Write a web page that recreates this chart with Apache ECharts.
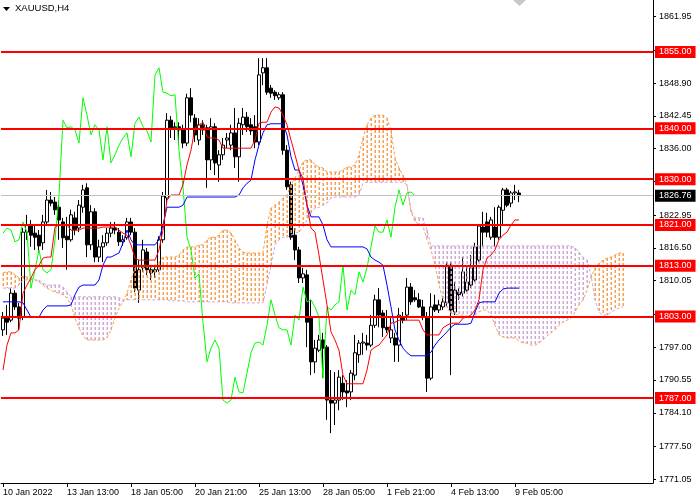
<!DOCTYPE html>
<html><head><meta charset="utf-8">
<script src="https://cdn.jsdelivr.net/npm/echarts@6/dist/echarts.min.js"></script>
<style>html,body{margin:0;padding:0;background:#fff}#c{width:700px;height:500px}</style>
</head><body><div id="c"></div>
<script>
const xTickLabels = ['10 Jan 2022','13 Jan 13:00','18 Jan 05:00','20 Jan 21:00','25 Jan 13:00','28 Jan 05:00','1 Feb 21:00','4 Feb 13:00','9 Feb 05:00'];
const barsPerTick = 16;
const slotCount = 163;

const open = [1800.4,1802.7,1802.3,1807.6,1804.9,1802.9,1819.6,1821.0,1819.4,1819.0,
 1817.5,1821.6,1825.9,1825.5,1824.5,1821.6,1818.8,1818.1,1822.4,1820.4,
 1824.5,1828.3,1817.1,1823.6,1814.7,1816.7,1817.5,1819.4,1820.4,1819.6,
 1817.7,1818.5,1821.6,1819.6,1808.2,1812.6,1815.7,1812.2,1811.8,1812.2,
 1818.1,1826.3,1841.6,1840.1,1840.3,1839.7,1837.1,1846.0,1842.0,1837.7,
 1840.7,1840.1,1833.8,1840.3,1832.8,1834.8,1837.7,1836.7,1839.1,1834.4,
 1840.7,1842.2,1840.7,1840.3,1837.3,1850.9,1851.9,1847.9,1847.1,1846.0,
 1846.6,1835.7,1828.9,1819.0,1816.1,1810.6,1811.2,1802.7,1794.1,1796.4,
 1798.4,1797.0,1786.6,1786.0,1786.6,1789.9,1788.4,1788.2,1791.5,1795.5,
 1797.8,1797.8,1797.4,1801.3,1806.3,1803.7,1800.9,1798.8,1798.8,1797.4,
 1802.9,1803.3,1808.8,1806.7,1806.3,1804.9,1802.9,1790.9,1805.3,1804.3,
 1804.9,1805.7,1813.1,1803.9,1807.8,1807.6,1808.2,1809.2,1810.2,1814.1,
 1820.6,1821.6,1818.6,1820.6,1818.6,1823.9,1827.9,1825.3,1827.3,1827.3];
const close = [1802.7,1801.9,1807.6,1804.9,1802.7,1819.6,1821.0,1819.0,1818.6,1816.9,
 1821.6,1825.9,1825.3,1824.0,1822.0,1818.5,1818.1,1823.0,1820.0,1824.9,
 1827.9,1817.1,1823.6,1814.7,1816.7,1817.5,1819.4,1820.4,1820.0,1817.7,
 1818.1,1821.6,1819.6,1808.6,1812.2,1816.1,1812.2,1811.6,1812.2,1818.1,
 1826.7,1841.6,1840.1,1840.3,1839.7,1837.1,1846.0,1842.6,1838.7,1840.7,
 1839.7,1833.8,1840.3,1833.2,1834.8,1836.7,1838.1,1839.1,1834.4,1841.0,
 1842.2,1840.3,1839.5,1837.3,1850.5,1851.9,1847.1,1846.9,1846.4,1846.6,
 1835.7,1828.5,1818.6,1816.1,1810.6,1811.4,1801.9,1794.1,1796.8,1798.4,
 1796.8,1786.6,1786.0,1786.6,1791.1,1788.2,1788.0,1791.9,1795.9,1797.8,
 1798.0,1797.4,1801.3,1806.3,1803.3,1800.8,1800.4,1800.4,1797.4,1803.3,
 1802.3,1808.8,1805.9,1806.3,1804.9,1802.9,1790.9,1804.9,1804.3,1805.3,
 1805.9,1813.1,1804.3,1808.2,1807.3,1811.8,1809.8,1812.6,1816.7,1820.8,
 1819.6,1819.6,1822.0,1818.6,1824.5,1827.9,1824.9,1827.3,1827.5,1826.76];
const high = [1803.9,1805.3,1808.6,1808.2,1805.7,1820.4,1823.0,1822.0,1821.0,1820.0,
 1823.0,1827.9,1827.5,1826.5,1825.9,1822.4,1822.6,1824.0,1823.6,1825.9,
 1828.9,1829.2,1824.9,1824.3,1818.1,1819.0,1820.4,1821.6,1821.6,1820.4,
 1819.0,1822.4,1822.4,1820.4,1814.1,1818.1,1816.5,1813.1,1813.1,1818.8,
 1827.5,1843.0,1842.4,1841.2,1841.2,1840.7,1846.8,1847.9,1842.8,1842.0,
 1841.6,1840.7,1842.0,1841.0,1835.7,1838.1,1839.1,1840.7,1844.0,1842.0,
 1844.0,1843.2,1842.0,1842.6,1853.8,1853.8,1853.8,1848.5,1847.5,1847.1,
 1847.1,1836.7,1829.5,1820.4,1816.7,1812.6,1812.2,1806.3,1798.4,1799.4,
 1799.8,1797.4,1792.5,1792.1,1792.5,1791.5,1790.5,1792.5,1799.4,1798.4,
 1799.8,1799.4,1803.3,1807.3,1808.6,1804.3,1804.3,1802.7,1799.8,1804.7,
 1803.9,1810.6,1809.6,1808.2,1807.6,1806.3,1803.9,1807.6,1807.3,1806.3,
 1806.9,1813.7,1813.7,1809.8,1808.6,1814.7,1813.1,1815.1,1817.5,1821.0,
 1823.6,1823.4,1822.6,1824.5,1824.9,1828.3,1828.3,1827.7,1828.9,1827.9];
const low = [1799.2,1799.4,1801.9,1804.3,1800.4,1802.3,1818.1,1816.7,1816.1,1815.5,
 1816.1,1821.2,1824.7,1823.0,1818.1,1816.5,1812.2,1817.7,1819.0,1819.6,
 1823.4,1814.7,1816.1,1813.7,1813.7,1813.7,1816.9,1818.6,1819.2,1816.9,
 1816.9,1818.1,1819.0,1807.8,1805.7,1811.8,1811.2,1810.2,1810.6,1811.8,
 1817.5,1824.9,1838.1,1837.7,1836.7,1836.1,1836.5,1841.2,1837.3,1836.7,
 1838.7,1828.3,1831.8,1830.8,1829.5,1833.8,1836.1,1835.7,1832.2,1829.5,
 1838.7,1839.3,1838.7,1836.1,1836.7,1848.5,1846.6,1846.0,1845.6,1845.6,
 1834.8,1827.9,1818.1,1814.1,1809.6,1809.6,1797.0,1791.5,1791.9,1796.0,
 1790.9,1782.7,1780.1,1781.7,1784.6,1786.6,1785.2,1786.6,1790.5,1793.9,
 1795.5,1796.4,1797.0,1800.8,1800.9,1799.0,1799.8,1797.8,1794.1,1794.1,
 1801.7,1802.3,1805.3,1805.9,1804.7,1802.3,1788.2,1790.5,1803.9,1803.7,
 1804.3,1805.1,1791.5,1803.3,1806.3,1806.9,1807.8,1808.6,1809.8,1813.7,
 1816.7,1818.6,1818.1,1816.7,1818.1,1821.2,1824.5,1824.5,1825.9,1825.5];

const tenkan = [1792.5,1797.4,1799.8,1799.8,1800.4,1807.6,1809.2,1810.6,1812.2,1813.1,
 1814.5,1814.7,1814.7,1820.6,1821.0,1821.0,1821.0,1820.0,1820.0,1820.0,
 1820.4,1820.4,1820.4,1820.4,1820.4,1820.6,1820.6,1820.6,1820.6,1820.0,
 1819.4,1819.0,1817.1,1814.5,1814.1,1814.1,1814.1,1814.1,1814.1,1816.1,
 1820.0,1825.9,1826.9,1826.9,1826.9,1828.9,1832.8,1835.7,1840.1,1840.7,
 1841.2,1838.3,1838.1,1838.1,1837.7,1836.1,1836.1,1836.1,1836.1,1836.1,
 1836.1,1836.1,1836.1,1837.7,1841.0,1841.2,1841.2,1843.2,1844.2,1844.0,
 1842.6,1840.7,1837.7,1834.8,1831.8,1830.2,1824.9,1820.4,1819.6,1815.1,
 1810.2,1805.3,1800.0,1798.4,1796.4,1791.5,1789.8,1789.8,1789.8,1789.8,
 1789.8,1792.5,1796.4,1797.0,1797.4,1798.4,1799.4,1801.7,1801.9,1802.3,
 1802.3,1802.3,1802.3,1802.3,1802.3,1800.4,1799.4,1799.4,1799.4,1799.4,
 1800.8,1801.3,1801.7,1801.7,1801.7,1802.7,1802.9,1803.3,1804.3,1806.3,
 1812.2,1814.5,1815.1,1816.1,1818.1,1819.0,1819.6,1821.0,1822.0,1822.0];
const kijun = [1805.9,1805.9,1805.9,1805.9,1805.9,1805.7,1804.3,1802.9,1802.9,1802.9,
 1804.3,1805.1,1805.1,1805.1,1805.1,1805.1,1805.1,1805.3,1807.3,1808.8,
 1809.2,1809.2,1809.2,1809.2,1810.2,1813.1,1814.7,1814.7,1815.1,1815.5,
 1817.5,1820.0,1818.1,1817.1,1817.1,1817.1,1817.1,1817.1,1817.1,1818.1,
 1821.0,1824.5,1824.5,1824.5,1824.5,1824.9,1826.5,1826.5,1826.5,1826.5,
 1826.5,1826.5,1826.5,1826.5,1826.5,1826.5,1826.5,1826.5,1826.5,1826.9,
 1828.3,1829.2,1829.8,1833.8,1836.7,1839.1,1840.7,1840.9,1840.9,1840.9,
 1840.9,1838.7,1834.4,1831.8,1831.8,1828.9,1824.9,1822.6,1822.6,1822.6,
 1821.0,1818.1,1816.7,1816.7,1816.7,1816.7,1816.7,1816.7,1816.7,1816.7,
 1816.7,1816.3,1814.7,1814.1,1813.7,1813.1,1809.2,1804.9,1800.4,1798.4,
 1796.8,1795.9,1795.3,1795.3,1795.3,1795.3,1795.3,1796.0,1797.4,1798.4,
 1799.2,1800.0,1800.9,1801.5,1801.5,1801.5,1801.5,1801.7,1803.9,1805.7,
 1805.9,1805.9,1805.9,1805.9,1807.6,1808.4,1808.6,1808.6,1808.6,1808.6];
const spanA = [1811.6,1811.8,1811.8,1811.2,1810.6,1811.0,1810.8,1810.6,1810.2,1809.8,
 1809.2,1808.6,1808.2,1807.8,1807.6,1807.3,1806.7,1805.3,1802.7,1800.8,
 1799.2,1798.4,1798.4,1798.4,1798.4,1798.4,1798.8,1800.4,1802.7,1804.7,
 1805.9,1807.6,1810.2,1812.6,1813.1,1813.1,1813.1,1813.1,1813.1,1813.7,
 1814.7,1814.7,1814.7,1814.7,1815.1,1816.1,1816.7,1816.7,1816.7,1817.1,
 1817.1,1818.1,1818.6,1818.6,1819.0,1820.0,1820.0,1819.4,1818.1,1816.5,
 1815.7,1815.5,1815.5,1815.5,1815.5,1815.5,1821.0,1824.3,1824.9,1825.5,
 1826.3,1826.9,1828.9,1830.2,1831.8,1833.4,1833.8,1833.8,1832.8,1832.4,
 1832.2,1831.4,1831.4,1831.4,1831.4,1831.8,1832.4,1832.4,1832.8,1834.8,
 1838.1,1840.7,1842.0,1842.6,1842.6,1842.6,1842.0,1839.7,1834.2,1832.2,
 1830.8,1828.9,1823.6,1821.6,1821.2,1820.8,1818.1,1816.1,1813.1,1809.2,
 1806.3,1804.7,1803.7,1803.5,1803.3,1803.3,1803.1,1802.9,1803.3,1803.9,
 1804.3,1804.3,1803.3,1801.3,1799.4,1799.0,1798.8,1798.8,1798.8,1798.2,
 1797.8,1797.8,1797.4,1797.4,1797.8,1798.4,1799.2,1799.8,1800.4,1801.3,
 1801.9,1802.3,1802.7,1803.9,1805.3,1806.3,1808.2,1810.6,1812.6,1813.5,
 1814.1,1814.5,1814.7,1815.1,1815.5,1815.5];
const spanB = [1808.6,1808.6,1808.6,1808.6,1809.2,1810.2,1810.2,1810.2,1810.2,1810.2,
 1809.6,1809.2,1809.2,1809.2,1809.2,1808.8,1807.8,1806.9,1806.9,1806.9,
 1806.9,1806.9,1806.9,1806.9,1806.9,1806.9,1806.9,1806.9,1806.9,1806.7,
 1806.3,1806.3,1806.3,1806.3,1806.3,1806.3,1806.3,1806.3,1806.3,1806.3,
 1806.3,1806.3,1806.1,1806.1,1806.1,1806.1,1805.9,1805.9,1805.9,1805.9,
 1805.9,1805.9,1805.9,1805.9,1805.9,1805.9,1805.9,1805.7,1805.7,1805.7,
 1805.7,1805.7,1805.7,1805.7,1805.7,1805.7,1809.2,1813.1,1817.1,1818.1,
 1818.6,1818.6,1819.0,1819.4,1819.6,1820.6,1822.0,1823.4,1824.3,1824.5,
 1824.9,1825.3,1826.3,1826.5,1826.5,1826.5,1826.5,1826.5,1826.5,1826.9,
 1829.2,1829.4,1829.4,1829.4,1829.4,1829.4,1829.4,1829.4,1829.4,1829.4,
 1829.4,1828.9,1823.9,1822.4,1822.4,1822.4,1820.0,1816.9,1816.9,1816.9,
 1816.9,1816.9,1816.9,1816.9,1816.9,1816.9,1816.9,1816.9,1816.9,1816.9,
 1816.9,1816.9,1816.9,1816.9,1816.9,1816.9,1816.9,1816.9,1816.9,1816.9,
 1816.9,1816.9,1816.9,1816.9,1816.9,1816.9,1816.9,1816.9,1816.9,1816.9,
 1816.9,1816.9,1816.9,1816.5,1815.7,1814.7,1814.1,1811.2,1806.3,1803.9,
 1803.3,1803.3,1803.9,1804.3,1804.7,1804.9];
const chikouShift = 26;

const levels = [1855, 1840, 1830, 1821, 1813, 1803, 1787];
const lastPrice = 1826.76;
const yTicks = [1861.95,1855.40,1848.90,1842.45,1836.00,1829.55,1822.95,1816.50,1810.05,1803.50,1797.00,1790.55,1784.10,1777.50,1771.05];
const yMin = 1770.30, yMax = 1865.22;

const FONT = '"Liberation Sans", Arial, sans-serif';
const ORANGE = '#F7A050', THISTLE = '#D0A8D8';
const categories = Array.from({length: slotCount}, (_, i) => String(i));
const candleData = open.map((o, i) => [o, close[i], low[i], high[i]]);
const chikou = close.slice(chikouShift);
const cloudData = spanA.map((a, i) => [i, a, spanB[i]]);
const showTick = (i) => i % barsPerTick === 0 && i / barsPerTick < xTickLabels.length;

const chart = echarts.init(document.getElementById('c'), null, {renderer: 'canvas'});
chart.setOption({
  animation: false,
  backgroundColor: '#fff',
  textStyle: {fontFamily: FONT},
  grid: {left: -1, right: 47, top: 0, bottom: 17, containLabel: false},
  xAxis: {
    type: 'category', data: categories, boundaryGap: true,
    axisLine: {show: true, onZero: false, lineStyle: {color: '#000', width: 1}},
    axisTick: {show: true, alignWithLabel: true, interval: (i) => showTick(i), length: 4, lineStyle: {color: '#000'}},
    axisLabel: {show: true, interval: (i) => showTick(i), formatter: (v, i) => xTickLabels[Math.round(i / barsPerTick)] || '',
      align: 'left', color: '#000', fontSize: 9, fontFamily: FONT, margin: 5},
    splitLine: {show: false}
  },
  yAxis: {
    type: 'value', position: 'right', min: yMin, max: yMax, scale: true,
    axisLine: {show: true, lineStyle: {color: '#000', width: 1}},
    axisTick: {show: true, length: 3, customValues: yTicks, lineStyle: {color: '#000'}},
    axisLabel: {show: true, customValues: yTicks, formatter: (v) => Number(v).toFixed(2), color: '#000', fontSize: 9, fontFamily: FONT, margin: 6},
    splitLine: {show: false}
  },
  graphic: [
    {type: 'polygon', shape: {points: [[3, 7], [10, 7], [6.5, 11]]}, style: {fill: '#000'}},
    {type: 'text', style: {x: 15, y: 8, text: 'XAUUSD,H4', font: '9.5px ' + FONT, fill: '#000', verticalAlign: 'middle'}},
    {type: 'polygon', shape: {points: [[513, 0], [526, 0], [519.5, 6]]}, style: {fill: '#C8C8C8'}}
  ],
  series: [
    {
      type: 'line', data: [], z: 1, silent: true,
      markLine: {symbol: 'none', silent: true, animation: false,
        lineStyle: {color: '#C0C0C0', width: 1, type: 'solid'},
        label: {show: true, position: 'end', distance: 2, formatter: (p) => p.value.toFixed(2),
          color: '#fff', backgroundColor: '#000', padding: [2, 4, 1, 4], fontSize: 9, fontFamily: FONT},
        data: [{yAxis: lastPrice}]}
    },
    {
      type: 'candlestick', data: candleData, z: 2, barWidth: 3,
      itemStyle: {color: '#fff', color0: '#000', borderColor: '#000', borderColor0: '#000', borderWidth: 1}
    },
    {
      type: 'custom', z: 3, silent: true, clip: true, data: cloudData,
      encode: {x: 0, y: [1, 2]},
      renderItem: (params, api) => {
        const i = api.value(0), a = api.value(1), b = api.value(2);
        const pa = api.coord([i, a]), pb = api.coord([i, b]);
        const x = Math.round(pa[0]) - 0.5;
        const y0 = Math.round(Math.min(pa[1], pb[1])), y1 = Math.round(Math.max(pa[1], pb[1]));
        const color = a >= b ? ORANGE : THISTLE;
        const children = [];
        for (let y = y0; y < y1; y += 5) {
          children.push({type: 'rect', shape: {x: x, y: y, width: 1.5, height: Math.min(3, y1 - y)},
            style: {fill: color, stroke: null, opacity: 1}});
        }
        return {type: 'group', children: children};
      }
    },
    {type: 'line', data: spanA, z: 3, symbol: 'none', silent: true, lineStyle: {color: ORANGE, width: 1, type: [3, 2]}},
    {type: 'line', data: spanB, z: 3, symbol: 'none', silent: true, lineStyle: {color: THISTLE, width: 1, type: [3, 2]}},
    {type: 'line', data: chikou, z: 4, symbol: 'none', silent: true, lineStyle: {color: '#00FF00', width: 1}},
    {type: 'line', data: kijun, z: 4, symbol: 'none', silent: true, lineStyle: {color: '#0000FF', width: 1}},
    {type: 'line', data: tenkan, z: 4, symbol: 'none', silent: true, lineStyle: {color: '#FF0000', width: 1}},
    {
      type: 'line', data: [], z: 6, silent: true,
      markLine: {symbol: 'none', silent: true, animation: false,
        lineStyle: {color: '#FF0000', width: 2, type: 'solid'},
        label: {show: true, position: 'end', distance: 2, formatter: (p) => p.value.toFixed(2),
          color: '#fff', backgroundColor: '#FF0000', padding: [2, 4, 1, 4], fontSize: 9, fontFamily: FONT},
        data: levels.map((v) => ({yAxis: v}))}
    }
  ]
});
</script></body></html>
